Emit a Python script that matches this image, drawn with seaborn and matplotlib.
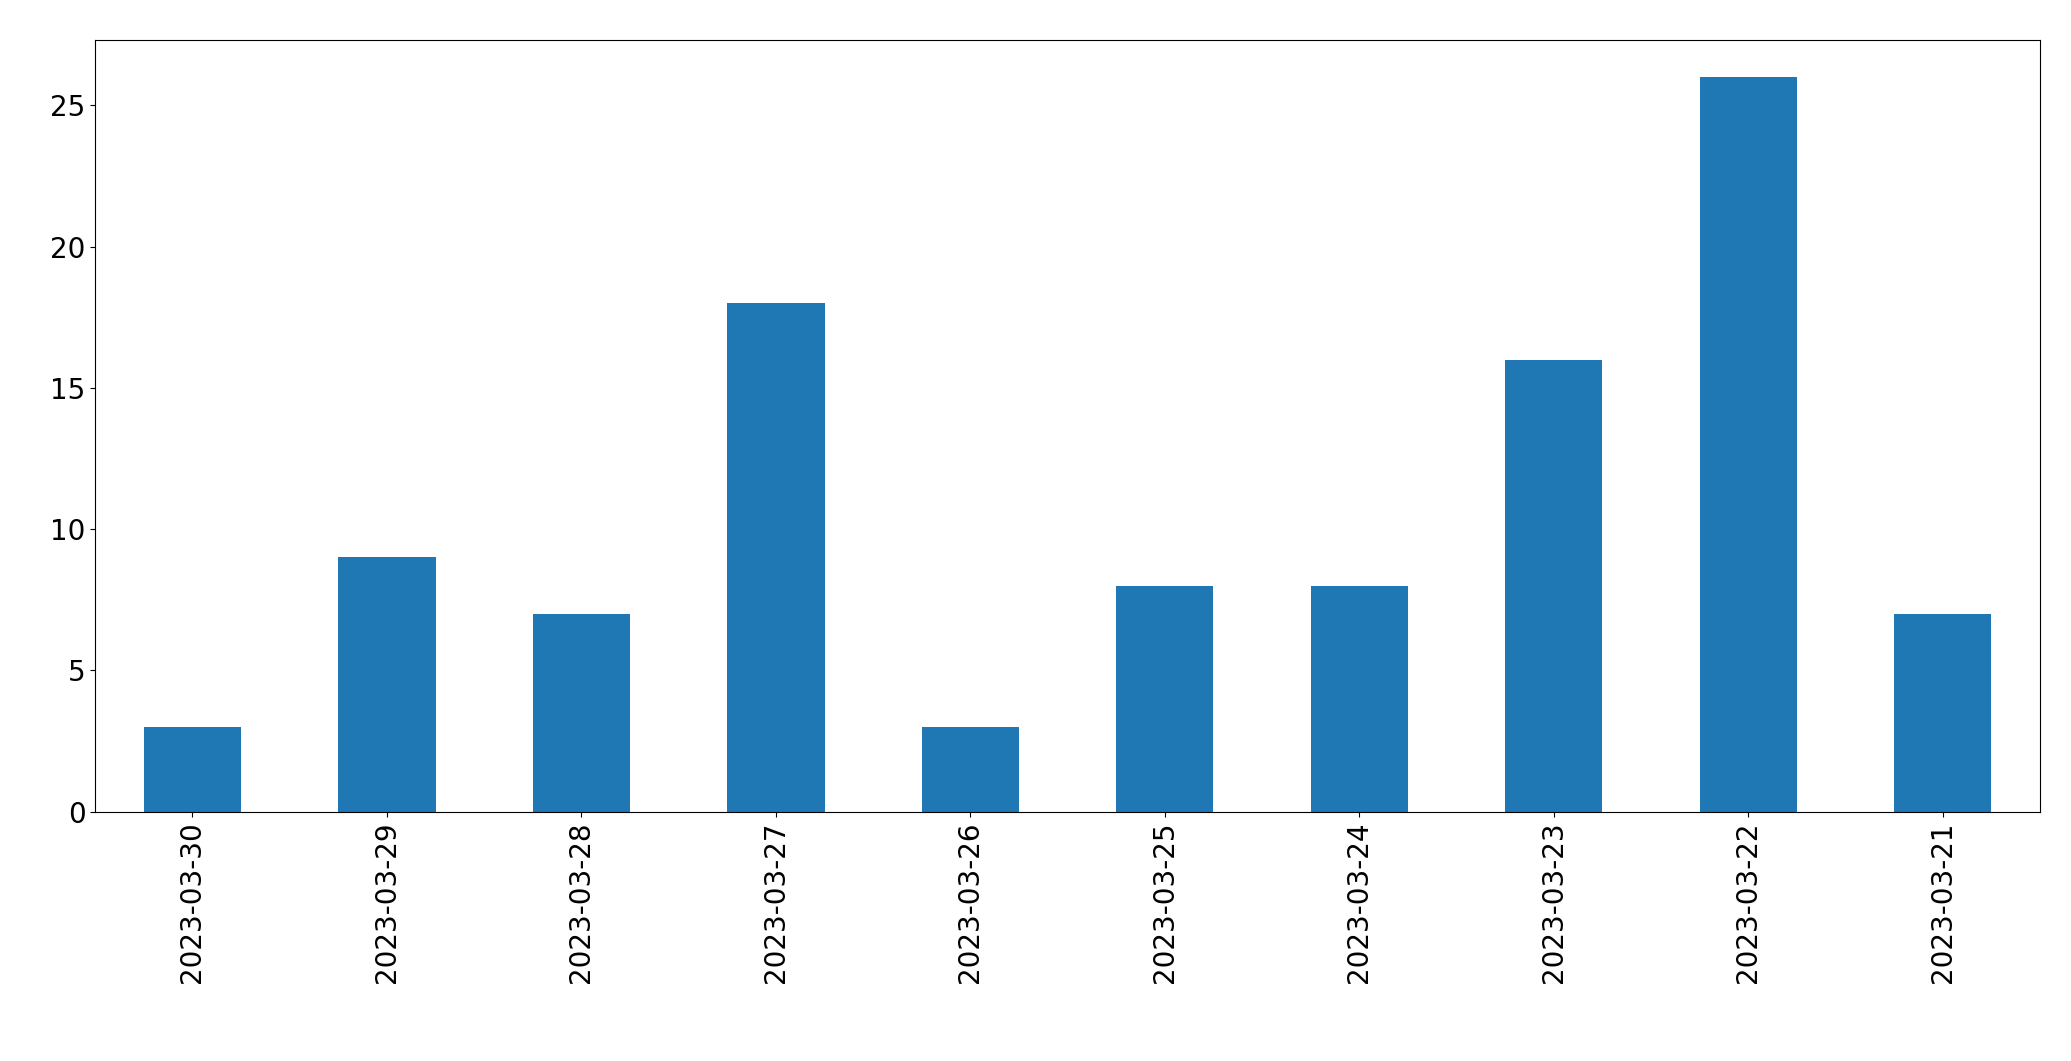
import matplotlib
matplotlib.use("Agg")
import matplotlib.pyplot as plt
import seaborn as sns
import pandas as pd

dates = ['2023-03-30', '2023-03-29', '2023-03-28', '2023-03-27', '2023-03-26',
         '2023-03-25', '2023-03-24', '2023-03-23', '2023-03-22', '2023-03-21']
counts = [3, 9, 7, 18, 3, 8, 8, 16, 26, 7]

df = pd.DataFrame({'date': dates, 'count': counts})

fig = plt.figure(figsize=(20.71, 10.61), dpi=100)
ax = fig.add_axes([0.046, 0.235, 0.939, 0.727])
sns.barplot(data=df, x='date', y='count', order=dates, color='#1f77b4',
            saturation=1, width=0.5, ax=ax)
ax.set_xlabel('')
ax.set_ylabel('')
ax.set_xlim(-0.5, len(dates) - 0.5)
ax.set_ylim(0, 27.3)
ax.tick_params(axis='both', labelsize=20)
ax.tick_params(axis='x', labelrotation=90)
fig.savefig('out.png', dpi=100)
